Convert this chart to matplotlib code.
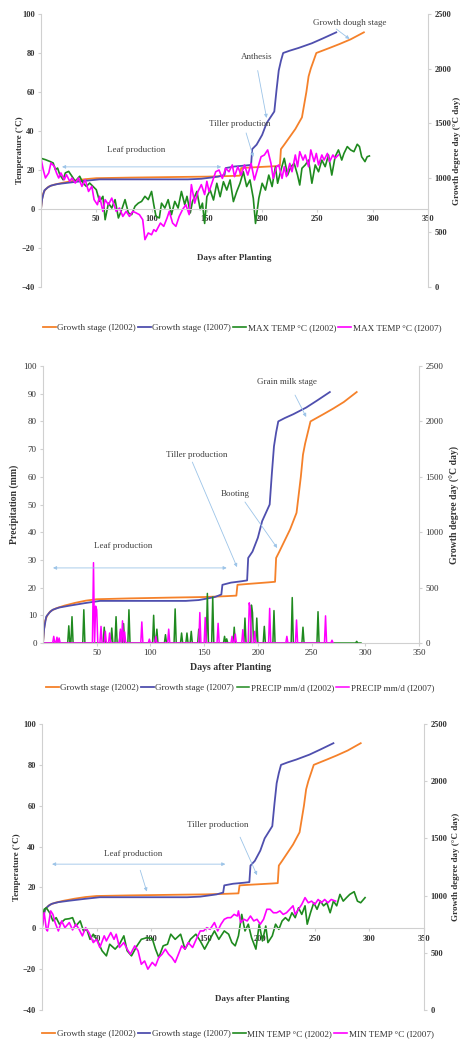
import numpy as np
import matplotlib.pyplot as plt

plt.rcParams['font.family'] = ['Liberation Serif', 'DejaVu Serif']

# growth stage (Zadoks) against days after planting
gs02_day = [0, 1, 2, 4, 7, 12, 20, 30, 40, 50, 80, 120, 150, 170, 180, 181, 190, 200, 210, 216,
            217, 220, 225, 230, 236, 240, 242, 244, 249, 255, 261, 270, 280, 292]
gs02_val = [0, 5, 8, 10, 11.5, 12.5, 13.5, 14.5, 15.3, 15.8, 16.1, 16.4, 16.6, 16.9, 17.1, 21, 21.3, 21.6, 21.9, 22.1,
            30.7, 33, 37, 41, 47, 60, 68, 72, 80, 81.3, 82.6, 84.6, 87, 90.6]
gs07_day = [0, 1, 3, 6, 9, 15, 25, 39, 53, 90, 133, 145, 152, 160, 166, 167, 175, 185, 190, 191,
            195, 200, 204, 211, 213, 215, 217, 219, 225, 233, 245, 255, 267]
gs07_val = [0, 5, 9.5, 11, 12, 12.8, 13.5, 14.4, 15.2, 15.2, 15.2, 15.5, 16, 16.6, 17.5, 21, 21.8, 22.3, 22.6, 30.7,
            33, 38, 44, 50, 61, 71, 76, 80, 81.2, 82.6, 85, 87.5, 90.6]

# maximum temperature
tmax02_day = [0, 4, 8, 11, 13, 15, 17, 20, 22, 25, 28, 31, 35, 38, 41, 44, 47, 50, 53, 56, 58, 61, 64, 67, 70,
              73, 76, 79, 82, 85, 88, 91, 94, 97, 100, 102, 104, 107, 109, 112, 115, 118, 121, 124, 127, 130,
              132, 135, 137, 141, 144, 146, 148, 150, 153, 156, 159, 162, 165, 168, 171, 174, 177, 180, 183,
              186, 189, 192, 194, 197, 200, 203, 206, 209, 212, 214, 217, 220, 223, 226, 229, 232, 234, 236,
              239, 242, 245, 248, 251, 254, 257, 260, 263, 266, 269, 272, 274, 277, 280, 283, 286, 288, 290,
              293, 295, 297]
tmax02_val = [26, 25.3, 24.4, 23.6, 20.2, 21, 17.6, 15, 18.5, 19.3, 16.8, 14.2, 16.8, 13.3, 11.6, 13.3, 11.6,
              9.9, 3.9, 6.5, -5.5, 3, 0.5, 4.8, -4.6, -0.3, 4.8, -2, -2.9, 1.4, 3, 3.9, 6.5, 4.8, 9, 2.2, -3.8,
              -4.6, 3, 0.5, 4.8, -2.9, 3.9, 0.5, 9, 2.2, 6.5, -2, 3.9, 9, -0.3, 3, -7.4, 6.3, 9.7, 4.6, 13.2,
              6.3, 14, 9.7, 14.9, 3.8, 8.9, 13.2, 19.1, 11.5, 14.9, 5.5, -7.4, 5.5, 13.2, 9.7, 17.4, 11.5,
              21.7, 13.2, 20, 26, 17.4, 21.7, 23.4, 17.4, 12.3, 20.9, 22.6, 25.1, 13.2, 22.6, 19.1, 25.1, 21.7,
              27.7, 17.4, 26.8, 30.3, 25.1, 28.5, 32, 30.3, 29.4, 33.2, 32, 26.8, 24.3, 26.8, 27.2]
tmax07_day = [0, 2, 4, 7, 9, 12, 14, 16, 18, 21, 23, 26, 28, 31, 34, 37, 40, 43, 46, 48, 51, 53, 56, 58, 61,
              64, 68, 71, 74, 77, 80, 83, 86, 89, 92, 94, 97, 100, 102, 104, 108, 111, 114, 116, 119, 122, 125,
              128, 131, 134, 136, 139, 142, 145, 148, 150, 152, 155, 158, 161, 164, 167, 170, 173, 175, 178,
              181, 184, 187, 190, 193, 196, 199, 202, 205, 208, 210, 213, 215, 218, 220, 222, 225, 227, 230,
              232, 234, 237, 239, 242, 244, 247, 249, 251, 254, 256, 259, 261, 264, 266, 269]
tmax07_val = [26, 20.2, 15.9, 18.5, 23.6, 21.9, 18.5, 15.9, 18.5, 15, 17.6, 14.2, 15.9, 13.3, 15.9, 11.6, 15,
              9, 11.6, 4.8, 2.2, 6.5, -1.2, 4.8, 2.2, 5.6, -1.2, 0.5, -3.8, -1.2, -3.8, -1.2, -2, -2.9, -5.5,
              -15.7, -12.3, -13.2, -10.6, -11.5, -7.2, -8.9, -4.6, -1.2, -7.2, -8.9, -3.8, -0.3, 2.2, -2.9,
              12.5, 3, 9, 12.5, 7.4, 14.2, 8.9, 14, 19.1, 20, 15.7, 20.9, 19.1, 22.6, 16.6, 21.7, 17.4, 22.6,
              17.4, 23.4, 14.9, 20.9, 26.8, 27.7, 30.3, 23.4, 15.7, 21.7, 22.6, 15.7, 21.7, 16.6, 23.4, 19.1,
              27.7, 21.7, 29.4, 25.1, 27.7, 21.7, 30.3, 24.3, 28.5, 22.6, 27.7, 25.1, 28.5, 24.3, 27.7, 26, 27.7]

# rain events (mm/d), all other days are dry
rain02_day = [24, 27, 38, 57, 64, 68, 72, 75, 80, 103, 106, 114, 123, 129, 134, 138, 145, 153, 158, 169,
              171, 178, 188, 194, 195, 199, 206, 215, 232, 242, 256, 292]
rain02_val = [6.2, 9.5, 12, 5.7, 5.4, 9.5, 4, 7, 12, 10, 5, 3, 12.3, 3.6, 3.6, 4.2, 5, 17.9, 16.6, 2.4,
              1.5, 5.7, 9, 13.7, 11, 9, 6, 11.7, 16.4, 5.7, 11.3, 0.6]
rain07_day = [10, 13, 15, 47, 49, 50, 54, 58, 62, 72, 74, 76, 92, 99, 105, 117, 146, 151, 163, 176,
              179, 186, 192, 193, 197, 211, 227, 236, 263, 269]
rain07_val = [2.4, 2.1, 1.8, 29, 13.3, 12, 6, 4.2, 3.6, 5, 8, 4, 7.6, 1.4, 2.4, 5, 11, 9.2, 7.1, 2.4,
              3.2, 4.8, 14.5, 12, 4.2, 12.5, 2.4, 8.3, 9.8, 1]
rain02_last = 296
rain07_last = 270

# minimum temperature
tmin02_day = [0, 2, 4, 7, 10, 13, 16, 21, 25, 28, 31, 35, 38, 41, 44, 47, 51, 55, 59, 62, 67, 71, 75, 78, 82,
              87, 91, 96, 101, 104, 107, 111, 115, 118, 122, 127, 131, 136, 141, 145, 149, 153, 158, 162, 167,
              171, 174, 177, 180, 183, 186, 189, 192, 196, 199, 202, 205, 207, 211, 214, 217, 220, 223, 226,
              229, 232, 235, 238, 241, 243, 246, 249, 252, 255, 258, 261, 264, 267, 270, 273, 276, 279, 282,
              286, 289, 292, 296]
tmin02_val = [3.6, 9.3, 10, 7.6, 3.6, 5.2, 2, 4.4, 4.7, 5.2, 1.1, 3.6, -1.3, -0.5, -5.4, -2.9, -6.2, -11,
              -13.5, -7.8, -10.2, -7.8, -3.7, -11, -13.5, -8.6, -5.4, -4.6, -5, -10.2, -14.3, -8.6, -7.8, -2.9,
              -5.4, -2.9, -10.2, -5.4, -2.9, -6.2, -10.2, -6.2, -1.3, -5.4, -1.3, -2.9, -7, -8.6, -3.7, 6.8,
              -1.3, 2, -4.6, -10.2, 2, -6.2, 1.1, -7, -3.7, 2, -0.5, 3.6, 5.2, 3.6, 7.6, 5.2, 10, 6.8, 11, 2,
              7.6, 12.5, 9.3, 13.3, 11, 12.5, 7.6, 13.3, 11, 16.6, 13.3, 15, 16.6, 17.9, 13.3, 12.5, 15]
tmin07_day = [0, 2, 4, 5, 8, 10, 12, 15, 18, 21, 25, 28, 31, 34, 37, 40, 43, 47, 50, 53, 57, 59, 63, 66, 68,
              71, 75, 78, 81, 85, 88, 91, 94, 97, 101, 104, 107, 110, 113, 116, 119, 122, 125, 128, 131, 134,
              138, 142, 145, 148, 151, 154, 158, 161, 164, 167, 170, 173, 176, 179, 180, 182, 185, 188, 191,
              194, 197, 200, 203, 206, 209, 212, 215, 218, 221, 224, 227, 230, 232, 235, 238, 241, 244, 247,
              250, 253, 256, 259, 262, 265, 269]
tmin07_val = [0.3, 7.6, -0.5, -1.3, 8.5, 6.8, 2.8, -1.3, 3.6, 0.3, 2.8, -0.8, 2, -0.5, -3.7, 0.3, -2.1, -7,
              -5.4, -9.4, -3.7, -6.2, -2.1, -5.4, -2.9, -9.4, -7, -10.2, -12.7, -8.6, -11, -17.6, -16, -20,
              -16.7, -18.4, -14.3, -12.7, -10.2, -12.7, -14.3, -16.7, -12.7, -8.6, -10.2, -7, -9.4, -4.6, -1.3,
              -1.3, 0.3, -0.5, 2.8, -1.3, 2, 4.4, 5.2, 5.2, 6.8, 6, 8.5, 2.8, 4.4, 3.6, 6, 3.6, 4.4, 2, 4.4,
              9.3, 9.3, 7.6, 7.6, 8.5, 6.8, 7.6, 9.3, 11, 6.8, 9.3, 11.7, 15, 12.5, 13.3, 11.7, 14.1, 12.5,
              14.1, 12.5, 14.1, 13.3]

x_ticks = [50, 100, 150, 200, 250, 300, 350]
gdd_ticks = [0, 500, 1000, 1500, 2000, 2500]

C_ORANGE = '#f5812a'
C_BLUE = '#4f4fae'
C_GREEN = '#1f8a1f'
C_MAGENTA = '#ff00ff'
GRID = '#d0d0d0'
TXT = '#333333'
ARROW = '#9cc4e8'


def daily_rain(days, vals, last):
    d = np.arange(0, last + 1)
    r = np.zeros(len(d))
    r[np.array(days)] = vals
    return d, r


W, H = 466, 1042
fig = plt.figure(figsize=(W / 100, H / 100), dpi=100)


def px_axes(l, t, r, b):
    return fig.add_axes([l / W, 1 - b / H, (r - l) / W, (b - t) / H])


def style(ax, ylim, yticks, bold, zero_axis, lab_l, lab_r, xl, yl_pos, yr_pos, fs):
    weight = 'bold' if bold else 'normal'
    ax.set_xlim(0, 350)
    ax.set_ylim(*ylim)
    ax.set_xticks(x_ticks)
    ax.set_yticks(yticks)
    for s in ['top', 'right']:
        ax.spines[s].set_visible(False)
    for s in ['left', 'bottom']:
        ax.spines[s].set_color(GRID)
        ax.spines[s].set_linewidth(0.8)
    if zero_axis:
        ax.spines['bottom'].set_position(('data', 0))
    ax.tick_params(axis='both', colors=GRID, labelcolor=TXT, length=2.5, width=0.8,
                   labelsize=fs, pad=2)
    for t in ax.get_xticklabels() + ax.get_yticklabels():
        t.set_fontweight(weight)
    ax.set_ylabel(lab_l, fontsize=fs + 0.5, fontweight='bold', color=TXT)
    ax.yaxis.set_label_coords(yl_pos, 0.5)

    ax2 = ax.twinx()
    ax2.set_ylim(0, 2500)
    ax2.set_yticks(gdd_ticks)
    for s in ['top', 'left', 'bottom']:
        ax2.spines[s].set_visible(False)
    ax2.spines['right'].set_color(GRID)
    ax2.spines['right'].set_linewidth(0.8)
    ax2.tick_params(axis='y', colors=GRID, labelcolor=TXT, length=2.5, width=0.8,
                    labelsize=fs, pad=2)
    for t in ax2.get_yticklabels():
        t.set_fontweight(weight)
    ax2.set_ylabel(lab_r, fontsize=fs + 0.5, fontweight='bold', color=TXT, rotation=90)
    ax2.yaxis.set_label_coords(yr_pos, 0.5)

    ax.text(xl[0], xl[1], 'Days after Planting', transform=ax.transAxes, ha='center', va='center',
            fontsize=fs + 0.5, fontweight='bold', color=TXT)
    return ax2


def note(ax, txt, pos, tail, tip, both=False):
    ax.text(pos[0], pos[1], txt, ha='center', va='center', fontsize=6.5, color='#404040')
    ax.annotate('', xy=tip, xytext=tail,
                arrowprops=dict(arrowstyle='<|-|>' if both else '-|>', color=ARROW, lw=0.6,
                                mutation_scale=5, shrinkA=0, shrinkB=0))


def growth(ax):
    l1, = ax.plot(gs02_day, gs02_val, color=C_ORANGE, lw=1.3)
    l2, = ax.plot(gs07_day, gs07_val, color=C_BLUE, lw=1.3)
    return [l1, l2]


def legend(handles, labels, y, xc):
    fig.legend(handles, labels, loc='center', bbox_to_anchor=(xc / W, 1 - y / H), ncol=4,
               frameon=False, fontsize=6.6, handlelength=1.4, handletextpad=0.15,
               columnspacing=0.25, borderaxespad=0, labelcolor=TXT)


# panel 1 - maximum temperature
ax = px_axes(41, 14, 428, 287)
style(ax, (-40, 100), range(-40, 101, 20), True, True, 'Temperature (˚C)',
      'Growth degree day (°C day)', (0.50, 0.106), -0.045, 1.064, 6)
h = growth(ax)
h += ax.plot(tmax02_day, tmax02_val, color=C_GREEN, lw=1.2)
h += ax.plot(tmax07_day, tmax07_val, color=C_MAGENTA, lw=1.2)
note(ax, 'Growth dough stage', (279, 95.4), (267, 92.3), (279, 87.2))
note(ax, 'Anthesis', (195, 78), (196, 71), (204, 46.7))
note(ax, 'Tiller production', (180, 43.6), (185.5, 39), (192, 26.7))
note(ax, 'Leaf production', (86, 30), (19, 21.6), (163, 21.6), both=True)
legend(h, ['Growth stage (I2002)', 'Growth stage (I2007)', 'MAX TEMP °C (I2002)', 'MAX TEMP °C (I2007)'],
       328, 242)

# panel 2 - precipitation
ax = px_axes(43, 366, 419, 643)
style(ax, (0, 100), range(0, 101, 10), False, False, 'Precipitation (mm)',
      'Growth degree day (°C day)', (0.50, -0.09), -0.065, 1.083, 6.5)
h = growth(ax)
d, r = daily_rain(rain02_day, rain02_val, rain02_last)
h += ax.plot(d, r, color=C_GREEN, lw=1.1)
d, r = daily_rain(rain07_day, rain07_val, rain07_last)
h += ax.plot(d, r, color=C_MAGENTA, lw=1.1)
note(ax, 'Grain milk stage', (227, 94.2), (234.6, 89.5), (245, 81.6))
note(ax, 'Tiller production', (143, 67.9), (139, 65.3), (180.6, 27.4))
note(ax, 'Booting', (179, 53.8), (188, 50.9), (218, 34.3))
note(ax, 'Leaf production', (75, 35), (9.3, 27.1), (171, 27.1), both=True)
legend(h, ['Growth stage (I2002)', 'Growth stage (I2007)', 'PRECIP mm/d (I2002)', 'PRECIP mm/d (I2007)'],
       688, 240)

# panel 3 - minimum temperature
ax = px_axes(42, 724, 424, 1010)
style(ax, (-40, 100), range(-40, 101, 20), True, True, 'Temperature (˚C)',
      'Growth degree day (°C day)', (0.55, 0.038), -0.055, 1.074, 6)
h = growth(ax)
h += ax.plot(tmin02_day, tmin02_val, color=C_GREEN, lw=1.2)
h += ax.plot(tmin07_day, tmin07_val, color=C_MAGENTA, lw=1.2)
note(ax, 'Tiller production', (161, 50.5), (181.5, 44.6), (197, 26))
note(ax, 'Leaf production', (83.4, 36.3), (9.2, 31.4), (168, 31.4), both=True)
ax.annotate('', xy=(96, 18), xytext=(90, 28.4),
            arrowprops=dict(arrowstyle='-|>', color=ARROW, lw=0.6, mutation_scale=5, shrinkA=0, shrinkB=0))
legend(h, ['Growth stage (I2002)', 'Growth stage (I2007)', 'MIN TEMP °C (I2002)', 'MIN TEMP °C (I2007)'],
       1034, 238)

fig.savefig('out.png', dpi=100)
